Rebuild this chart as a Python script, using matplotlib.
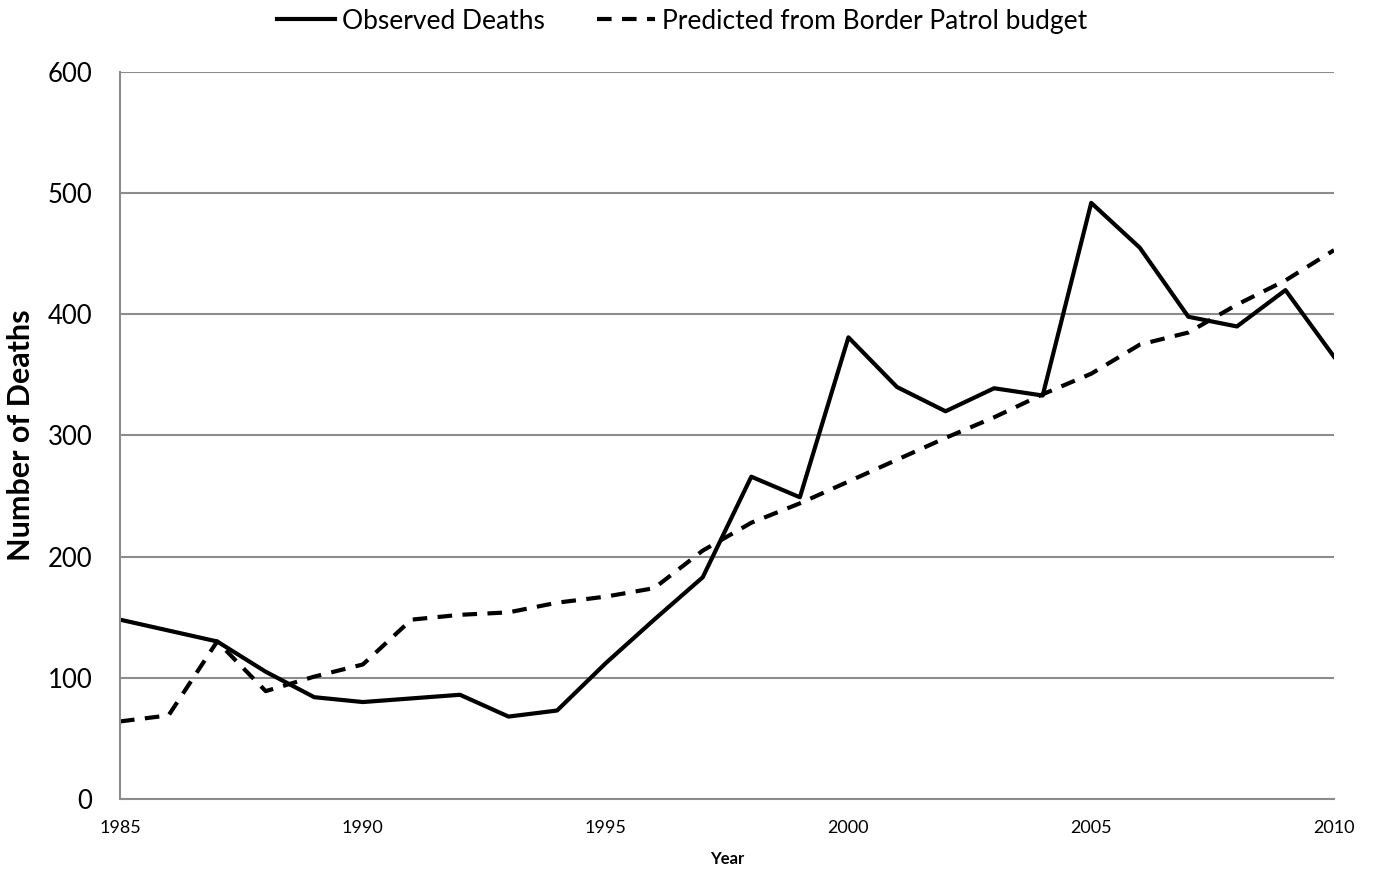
import numpy as np
import matplotlib.pyplot as plt

years = np.arange(1985, 2011)

observed = [148, 139, 130, 105, 84, 80, 83, 86, 68, 73, 112, 148, 183, 266, 249,
            381, 340, 320, 339, 333, 492, 455, 398, 390, 420, 365]
predicted = [64, 69, 130, 89, 101, 111, 148, 152, 154, 162, 167, 174, 205, 228, 244,
             262, 280, 298, 315, 334, 351, 375, 385, 408, 428, 453]


def main():
    plt.rcParams['font.family'] = ['Lato', 'DejaVu Sans']
    fig = plt.figure(figsize=(13.75, 8.73), dpi=100)
    ax = fig.add_axes([0.0873, 0.0848, 0.8829, 0.8327])

    ax.plot(years, observed, color='black', lw=3, label='Observed Deaths')
    ax.plot(years, predicted, color='black', lw=3, ls=(0, (3.5, 2.5)),
            label='Predicted from Border Patrol budget')

    ax.set_xlim(1985, 2010)
    ax.set_ylim(0, 600)
    ax.set_xticks(np.arange(1985, 2011, 5))
    ax.set_yticks(np.arange(0, 601, 100))
    ax.tick_params(axis='y', labelsize=18.5, length=0, pad=20)
    ax.tick_params(axis='x', labelsize=13, length=0, pad=15)
    ax.grid(True, axis='y', color='#8c8c8c', lw=1.5)
    ax.set_axisbelow(True)
    for s in ['top', 'right']:
        ax.spines[s].set_visible(False)
    for s in ['left', 'bottom']:
        ax.spines[s].set_color('#8c8c8c')
        ax.spines[s].set_linewidth(1.5)

    ax.set_ylabel('Number of Deaths', fontsize=22, fontweight='bold', labelpad=9)
    ax.set_xlabel('Year', fontsize=12, fontweight='bold', labelpad=11)

    ax.legend(loc='center', bbox_to_anchor=(0.463, 1.07), ncol=2, frameon=False,
              fontsize=19, handlelength=2.2, handletextpad=0.25, columnspacing=2.0,
              borderaxespad=0)

    plt.savefig('out.png', dpi=100)


if __name__ == '__main__':
    main()
